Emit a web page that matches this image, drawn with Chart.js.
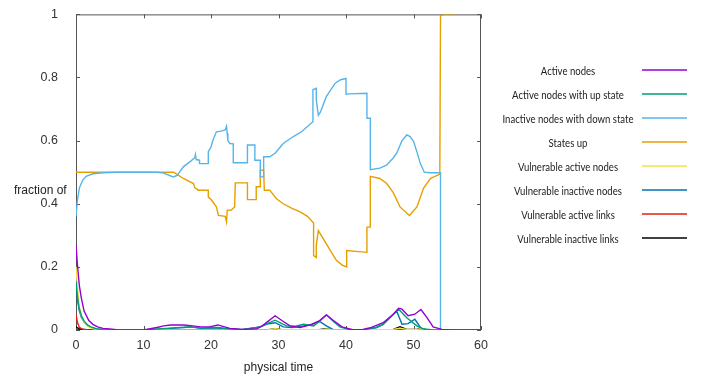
<!DOCTYPE html>
<html>
<head>
<meta charset="utf-8">
<script src="https://cdn.jsdelivr.net/npm/chart.js@4.4.0/dist/chart.umd.min.js"></script>
<style>
  html, body { margin: 0; padding: 0; background: #fff; }
  #wrap { width: 707px; height: 376px; }
</style>
</head>
<body>
<div id="wrap"><canvas id="grafico" width="707" height="376"></canvas></div>
<script>
// --- nomes e cores das séries (paleta padrão do gnuplot) ---
const seriesNames = [
    'Active nodes',
    'Active nodes with up state',
    'Inactive nodes with down state',
    'States up',
    'Vulnerable active nodes',
    'Vulnerable inactive nodes',
    'Vulnerable active links',
    'Vulnerable inactive links'
];
const seriesColors = ['#9400d3', '#009e73', '#56b4e9', '#e69f00', '#f0e442', '#0072b2', '#e51e10', '#000000'];

const xTicks = [0, 10, 20, 30, 40, 50, 60];
const yTicks = [0, 0.2, 0.4, 0.6, 0.8, 1];
const yTickLabels = ['0', '0.2', '0.4', '0.6', '0.8', '1'];
const xTitle = 'physical time';
const yTitle = 'fraction of';

// --- valores (tempo, fração) ---
const activeT = [0, 0.2, 0.5, 0.8, 1.2, 1.9, 2.5, 3.2, 4, 5, 6, 8, 10, 11, 12, 13, 14, 16, 17, 18.4, 19.8, 21, 22, 22.8, 24.8, 26.8, 27.5, 28.3, 29.5, 30.5, 31.7, 33.2, 34.7, 36.1, 37.1, 38.1, 39.4, 41, 42.5, 43.6, 45.5, 47, 47.8, 48.3, 49.2, 50.2, 51.1, 52, 52.9, 54.2, 55.5, 56];
const activeV = [0.27, 0.21, 0.14, 0.1, 0.06, 0.03, 0.018, 0.01, 0.005, 0.003, 0.001, 0, 0, 0.004, 0.008, 0.013, 0.016, 0.016, 0.014, 0.01, 0.01, 0.016, 0.01, 0.005, 0.002, 0.004, 0.012, 0.025, 0.045, 0.03, 0.013, 0.008, 0.016, 0.03, 0.048, 0.031, 0.01, 0.001, 0.002, 0.007, 0.023, 0.05, 0.069, 0.066, 0.045, 0.05, 0.065, 0.039, 0.01, 0.002, 0, 0];

const activeUpT = [0, 0.2, 0.45, 0.8, 1.2, 1.7, 2.2, 3, 4, 6, 10, 12, 14, 16, 17, 18.5, 20, 21, 22.5, 24.5, 27.3, 28.5, 29.5, 30.5, 31.2, 32.5, 33.7, 35.2, 36.2, 37.1, 38.1, 39.1, 40.5, 43, 44.5, 45.5, 46.8, 47.8, 49, 50.5, 51.5, 53, 56];
const activeUpV = [0.155, 0.11, 0.071, 0.045, 0.029, 0.016, 0.01, 0.004, 0.001, 0, 0, 0.003, 0.006, 0.009, 0.01, 0.006, 0.007, 0.008, 0.004, 0.001, 0.01, 0.022, 0.031, 0.02, 0.013, 0.012, 0.018, 0.013, 0.03, 0.048, 0.028, 0.01, 0.001, 0.002, 0.008, 0.018, 0.045, 0.066, 0.039, 0.013, 0.003, 0, 0];

const downT = [0, 0.2, 0.5, 1, 1.5, 2.5, 4, 6, 9, 12, 13, 14.4, 15, 15.9, 17, 17.6, 17.7, 17.8, 18.3, 18.3, 19.6, 19.6, 20, 20.3, 20.8, 21.5, 22.1, 22.3, 22.4, 22.5, 22.8, 23.3, 23.3, 25.4, 25.4, 26.5, 26.5, 27.3, 27.3, 27.8, 27.8, 28.7, 29.5, 30.7, 32.2, 33.4, 35.1, 35.1, 35.6, 35.6, 35.9, 36.2, 37.1, 38.4, 39.2, 40, 40, 40.5, 43.1, 43.1, 43.6, 43.6, 45, 46, 47, 47.5, 48.3, 49, 49.5, 50, 50.5, 51, 51.6, 52.5, 54, 54, 56];
const downV = [0.36, 0.41, 0.45, 0.475, 0.487, 0.495, 0.498, 0.5, 0.5, 0.5, 0.497, 0.485, 0.49, 0.517, 0.535, 0.546, 0.556, 0.54, 0.538, 0.527, 0.527, 0.565, 0.58, 0.602, 0.628, 0.63, 0.634, 0.646, 0.623, 0.6, 0.591, 0.59, 0.53, 0.53, 0.586, 0.586, 0.538, 0.538, 0.485, 0.485, 0.549, 0.549, 0.56, 0.591, 0.613, 0.628, 0.66, 0.761, 0.766, 0.729, 0.68, 0.69, 0.74, 0.782, 0.793, 0.797, 0.747, 0.748, 0.75, 0.671, 0.671, 0.508, 0.513, 0.522, 0.545, 0.56, 0.6, 0.618, 0.613, 0.598, 0.565, 0.528, 0.5, 0.498, 0.498, 0, 0];

const statesUpT = [0, 13, 14.4, 14.7, 15.9, 17.4, 17.6, 18.1, 19.6, 19.6, 20.1, 20.8, 21.1, 22.1, 22.3, 22.4, 23, 23.5, 23.6, 25.4, 25.4, 26.7, 26.7, 27.3, 27.3, 27.8, 27.9, 28.7, 29.7, 30.7, 32, 33.2, 34.3, 35.2, 35.2, 35.6, 35.6, 35.9, 36.6, 37.4, 38.6, 39.5, 40.1, 40.1, 43.1, 43.1, 43.6, 43.6, 45, 46, 47, 48, 49.4, 50.5, 51.5, 52.5, 53.9, 54, 54.5, 56.1];
const statesUpV = [0.5, 0.5, 0.5, 0.497, 0.48, 0.464, 0.451, 0.443, 0.443, 0.421, 0.411, 0.39, 0.363, 0.36, 0.342, 0.379, 0.38, 0.39, 0.466, 0.466, 0.413, 0.413, 0.454, 0.454, 0.506, 0.506, 0.443, 0.443, 0.416, 0.4, 0.385, 0.374, 0.36, 0.339, 0.236, 0.23, 0.268, 0.315, 0.29, 0.262, 0.22, 0.205, 0.2, 0.252, 0.246, 0.326, 0.326, 0.487, 0.48, 0.465, 0.435, 0.39, 0.363, 0.39, 0.45, 0.48, 0.494, 0.995, 1, 1];

const vulnActiveT = [0, 0.2, 0.45, 0.8, 1.2, 1.7, 2.5, 3.5, 5, 10, 28.5, 29.5, 30.5, 36.5, 37.1, 38, 47, 48, 49, 50.5, 51, 52, 56];
const vulnActiveV = [0.2, 0.14, 0.08, 0.045, 0.025, 0.012, 0.004, 0.001, 0, 0, 0.001, 0.004, 0.001, 0.001, 0.003, 0, 0.002, 0.006, 0.002, 0.002, 0.004, 0, 0];

const vulnInactiveT = [0, 0.2, 0.45, 0.8, 1.2, 1.7, 2.2, 3, 4, 6, 10, 12, 14, 16, 17, 18.5, 20, 21, 22.5, 24.5, 27.3, 28.5, 29.5, 30.7, 32, 33.7, 35, 36.1, 37.1, 38.1, 40, 43, 44.5, 45.5, 46.8, 47.5, 48.3, 49.2, 50.2, 51.2, 52, 56];
const vulnInactiveV = [0.145, 0.1, 0.065, 0.04, 0.025, 0.014, 0.008, 0.003, 0.001, 0, 0, 0.002, 0.005, 0.008, 0.01, 0.005, 0.006, 0.006, 0.003, 0.001, 0.01, 0.02, 0.023, 0.01, 0.008, 0.013, 0.018, 0.027, 0.013, 0.001, 0, 0.002, 0.008, 0.018, 0.045, 0.06, 0.018, 0.02, 0.034, 0.003, 0, 0];

const linksActiveT = [0, 0.2, 0.5, 1, 2, 56];
const linksActiveV = [0.05, 0.025, 0.008, 0.002, 0, 0];

const linksInactiveT = [0, 0.5, 2, 10, 28.5, 29.5, 30.5, 36, 37, 38, 47, 48, 49, 50.5, 51, 52, 56];
const linksInactiveV = [0.01, 0.003, 0, 0, 0.001, 0.004, 0.001, 0.001, 0.004, 0, 0.002, 0.01, 0.002, 0.002, 0.006, 0, 0];

const seriesTimes = [activeT, activeUpT, downT, statesUpT, vulnActiveT, vulnInactiveT, linksActiveT, linksInactiveT];
const seriesValues = [activeV, activeUpV, downV, statesUpV, vulnActiveV, vulnInactiveV, linksActiveV, linksInactiveV];

// --- moldura estilo gnuplot, ticks para dentro, título do eixo y e legenda ---
const molduraPlugin = {
    id: 'moldura',
    beforeDatasetsDraw(chart) {
        const { ctx, chartArea: a, scales: { x, y } } = chart;
        ctx.save();
        ctx.strokeStyle = '#555';
        ctx.lineWidth = 1;
        ctx.strokeRect(a.left + 0.5, a.top + 0.5, a.right - a.left - 1, a.bottom - a.top - 1);
        ctx.beginPath();
        xTicks.forEach(v => {
            const px = Math.round(x.getPixelForValue(v)) + 0.5;
            ctx.moveTo(px, a.bottom); ctx.lineTo(px, a.bottom - 4);
            ctx.moveTo(px, a.top); ctx.lineTo(px, a.top + 4);
        });
        yTicks.forEach(v => {
            const py = Math.round(y.getPixelForValue(v)) + 0.5;
            ctx.moveTo(a.left, py); ctx.lineTo(a.left + 4, py);
            ctx.moveTo(a.right, py); ctx.lineTo(a.right - 4, py);
        });
        ctx.stroke();
        ctx.restore();
    },
    afterDraw(chart) {
        const { ctx } = chart;
        ctx.save();
        ctx.fillStyle = '#222';
        ctx.font = '12px "Liberation Sans", Arial, sans-serif';
        ctx.textAlign = 'left';
        ctx.textBaseline = 'middle';
        ctx.fillText(yTitle, 14, 191);

        // legenda: texto centrado (um pouco condensado, como Calibri) e amostra da linha à direita
        ctx.font = '11px Lato, "Liberation Sans", sans-serif';
        ctx.textAlign = 'center';
        chart.data.datasets.forEach((ds, i) => {
            const ly = 70 + i * 24;
            const w = ctx.measureText(ds.label).width * 0.87;
            ctx.fillStyle = '#222';
            ctx.fillText(ds.label, 568, ly + 1, w);
            ctx.strokeStyle = ds.borderColor;
            ctx.lineWidth = 1.5;
            ctx.beginPath();
            ctx.moveTo(642, ly);
            ctx.lineTo(687, ly);
            ctx.stroke();
        });
        ctx.restore();
    }
};

const datasets = seriesNames.map((nome, i) => ({
    label: nome,
    data: seriesTimes[i].map((t, k) => ({ x: t, y: seriesValues[i][k] })),
    borderColor: seriesColors[i],
    backgroundColor: seriesColors[i],
    borderWidth: 1.4,
    pointRadius: 0,
    tension: 0,
    fill: false
}));

const ctx = document.getElementById('grafico').getContext('2d');
new Chart(ctx, {
    type: 'line',
    data: { datasets: datasets },
    options: {
        responsive: false,
        animation: false,
        devicePixelRatio: 1,
        layout: { padding: { top: 14, right: 226, left: 0, bottom: 0 } },
        plugins: {
            legend: { display: false },
            tooltip: { enabled: false }
        },
        scales: {
            x: {
                type: 'linear',
                min: 0,
                max: 60,
                grid: { display: false },
                border: { display: false },
                ticks: {
                    stepSize: 10,
                    autoSkip: false,
                    maxRotation: 0,
                    padding: 0,
                    color: '#333',
                    font: { family: '"Liberation Sans", Arial, sans-serif', size: 12.5 }
                },
                title: {
                    display: true,
                    text: xTitle,
                    color: '#222',
                    padding: { top: 0, bottom: 1 },
                    font: { family: '"Liberation Sans", Arial, sans-serif', size: 12 }
                },
                afterFit: (scale) => { scale.height = 46; }
            },
            y: {
                min: 0,
                max: 1,
                grid: { display: false },
                border: { display: false },
                ticks: {
                    stepSize: 0.2,
                    padding: 10,
                    color: '#333',
                    font: { family: '"Liberation Sans", Arial, sans-serif', size: 12.5, lineHeight: 0.7 },
                    callback: (v, idx) => yTickLabels[idx]
                },
                afterFit: (scale) => { scale.width = 76; }
            }
        }
    },
    plugins: [molduraPlugin]
});
</script>
</body>
</html>
